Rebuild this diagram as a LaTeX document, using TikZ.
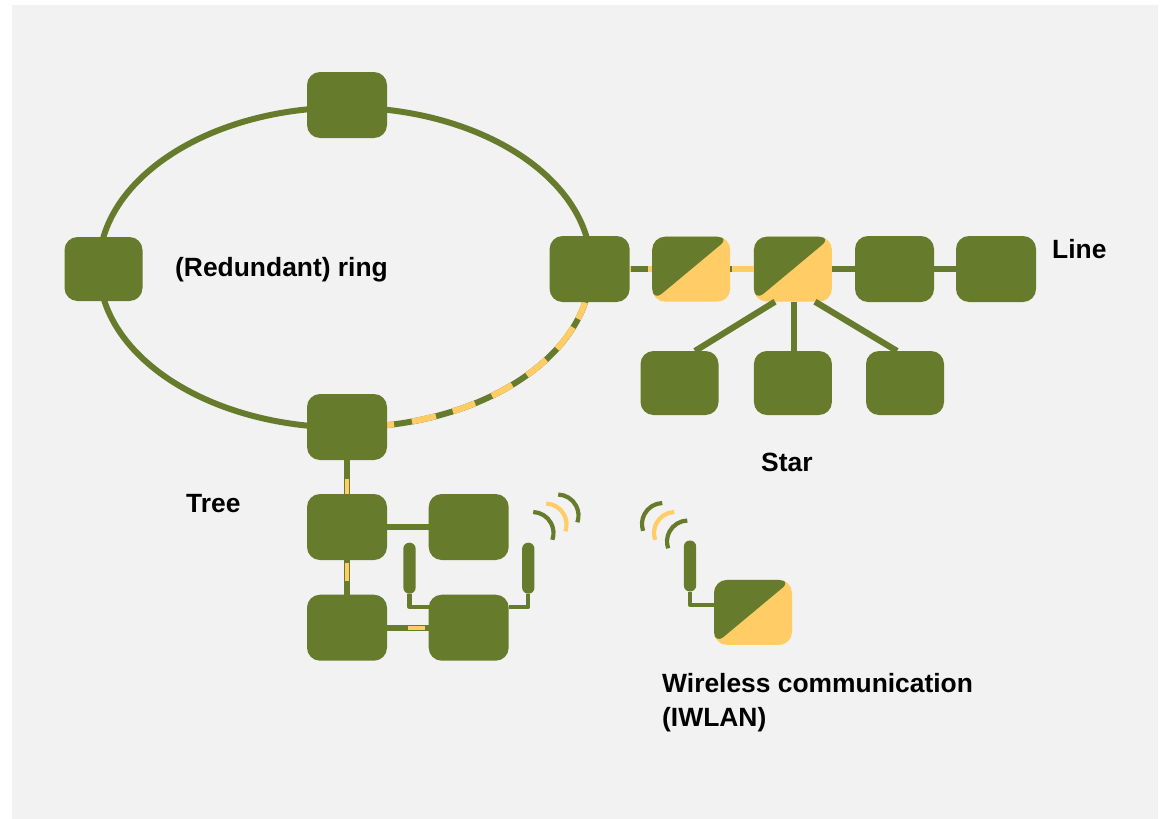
\documentclass[tikz,border=0pt]{standalone}
\usepackage{fontspec}
\setmainfont{Liberation Sans}
\definecolor{olv}{RGB}{102,124,44}
\definecolor{gld}{RGB}{255,204,102}
\definecolor{pnl}{RGB}{242,242,242}
\tikzset{
  x=1pt,y=-1pt,
  sw/.style={fill=olv,rounded corners=13pt,inner sep=0pt,minimum width=#1,minimum height=66pt},
  sw/.default=80pt,
  swb/.style={fill=olv,rounded corners=13pt,inner sep=0pt,minimum width=78pt,minimum height=64pt},
  halfbox/.style={fill=gld,rounded corners=13pt,inner sep=0pt,minimum width=78pt,minimum height=65pt,
    path picture={\fill[olv] (path picture bounding box.south west) -- (path picture bounding box.north east) -- (path picture bounding box.north west) -- cycle;}},
  antenna/.style={fill=olv,rounded corners=6pt,inner sep=0pt,minimum width=12.3pt,minimum height=51pt},
  lbl/.style={font=\bfseries\fontsize{26.4}{30}\selectfont,anchor=base west,inner sep=0pt,text=black},
  lnk/.style={draw=olv,line width=6.2pt},
  lnkg/.style={draw=olv,line width=6.4pt},
  seg/.style={draw=gld,line width=6.2pt},
  segn/.style={draw=gld,line width=4.2pt},
  feed/.style={draw=olv,line width=4.2pt,line join=round},
  ringg/.style={draw=olv,line width=6pt},
  ringy/.style={draw=gld,line width=6pt},
  wave/.style={line width=4.2pt},
}
\newcommand{\ringarc}[2]{\draw[ringy] (rc) ++(-#1:246pt and 160pt) arc[start angle=-#1,end angle=-#2,x radius=246pt,y radius=160pt];}
\begin{document}
\begin{tikzpicture}
\useasboundingbox (0,0) rectangle (1165,819);
\fill[white] (0,0) rectangle (1165,819);
\fill[pnl] (12,5) rectangle (1158,819);
\coordinate (rc) at (345,267.5);
% ring
\draw[ringg] (rc) ellipse[x radius=246pt,y radius=160pt];
\ringarc{80.2}{78.5}\ringarc{74.2}{68.3}\ringarc{64}{58.1}\ringarc{53.3}{47.2}\ringarc{42.3}{35.2}\ringarc{30.5}{22}\ringarc{18.7}{12.6}
% nodes
\node[sw] (rt) at (347,105) {};
\node[swb] (rl) at (103.5,269) {};
\node[sw] (rr) at (589.6,269) {};
\node[sw] (rb) at (347,427) {};
\node[sw] (t1) at (347,527) {};
\node[sw] (t2) at (468.7,527) {};
\node[sw] (t3) at (347,627.7) {};
\node[sw] (t4) at (468.7,627.7) {};
\node[halfbox] (a) at (691.2,269.2) {};
\node[halfbox] (b) at (792.9,269.2) {};
\node[sw=79pt] (l1) at (894.5,269) {};
\node[sw] (l2) at (996,269) {};
\node[swb] (s1) at (679.5,383) {};
\node[swb] (s2) at (792.9,383) {};
\node[swb] (s3) at (905,383) {};
\node[halfbox] (w) at (753,612.4) {};
\node[antenna] (an1) at (409.5,568.2) {};
\node[antenna] (an2) at (528.3,568.2) {};
\node[antenna] (an3) at (690,566) {};
% connectors
\draw[lnk] (rr.east) -- (a.west |- rr.east);
\draw[seg] (rr.east) -- ++(1.2,0);
\draw[seg] (a.west |- rr.east) -- ++(-4,0);
\draw[lnk] (a.east |- rr.east) -- (b.west |- rr.east);
\draw[seg] (b.west |- rr.east) -- ++(-21.7,0);
\draw[lnk] (b.east |- l1.west) -- (l1.west);
\draw[lnk] (l1.east) -- (l2.west);
\draw[lnk] (794,301.7) -- (794,351);
\draw[lnk] (775,301.7) -- (695,351);
\draw[lnk] (815,301.7) -- (897,351);
\draw[lnkg] (rb.south) -- (t1.north);
\draw[segn] (t1.north) -- ++(0,-15);
\draw[lnkg] (t1.south) -- (t3.north);
\draw[segn] (t1.south) ++(0,2.7) -- ++(0,18);
\draw[lnk] (t1.east) -- (t2.west);
\draw[lnk] (t3.east) -- (t4.west);
\draw[segn] (t3.east) ++(20.3,0) -- ++(17.7,0);
\draw[feed] (an1.south) |- (t4.west |- 0,607);
\draw[feed] (an2.south) |- (t4.east |- 0,607);
\draw[feed] (an3.south) |- (w.west |- 0,604.7);
% waves
\foreach \cx/\cy/\c in {532.5/533/olv,545.5/524.5/gld,557.5/515.5/olv}{
  \draw[wave,draw=\c] (\cx,\cy) ++(88:21pt) arc[start angle=88,end angle=-19,radius=21pt];}
\foreach \cx/\cy/\c in {688/541.5/olv,675/533/gld,663/524/olv}{
  \draw[wave,draw=\c] (\cx,\cy) ++(92:21pt) arc[start angle=92,end angle=199,radius=21pt];}
% labels
\node[lbl] (lr) at (175,276.7) {(Redundant) ring};
\node[lbl] (ll) at (1052,258) {Line};
\node[lbl] (ls) at (761,471) {Star};
\node[lbl] (lt) at (186,512) {Tree};
\node[lbl] (lw1) at (662,692) {Wireless communication};
\node[lbl] (lw2) at (662,726) {(IWLAN)};
\end{tikzpicture}
\end{document}
